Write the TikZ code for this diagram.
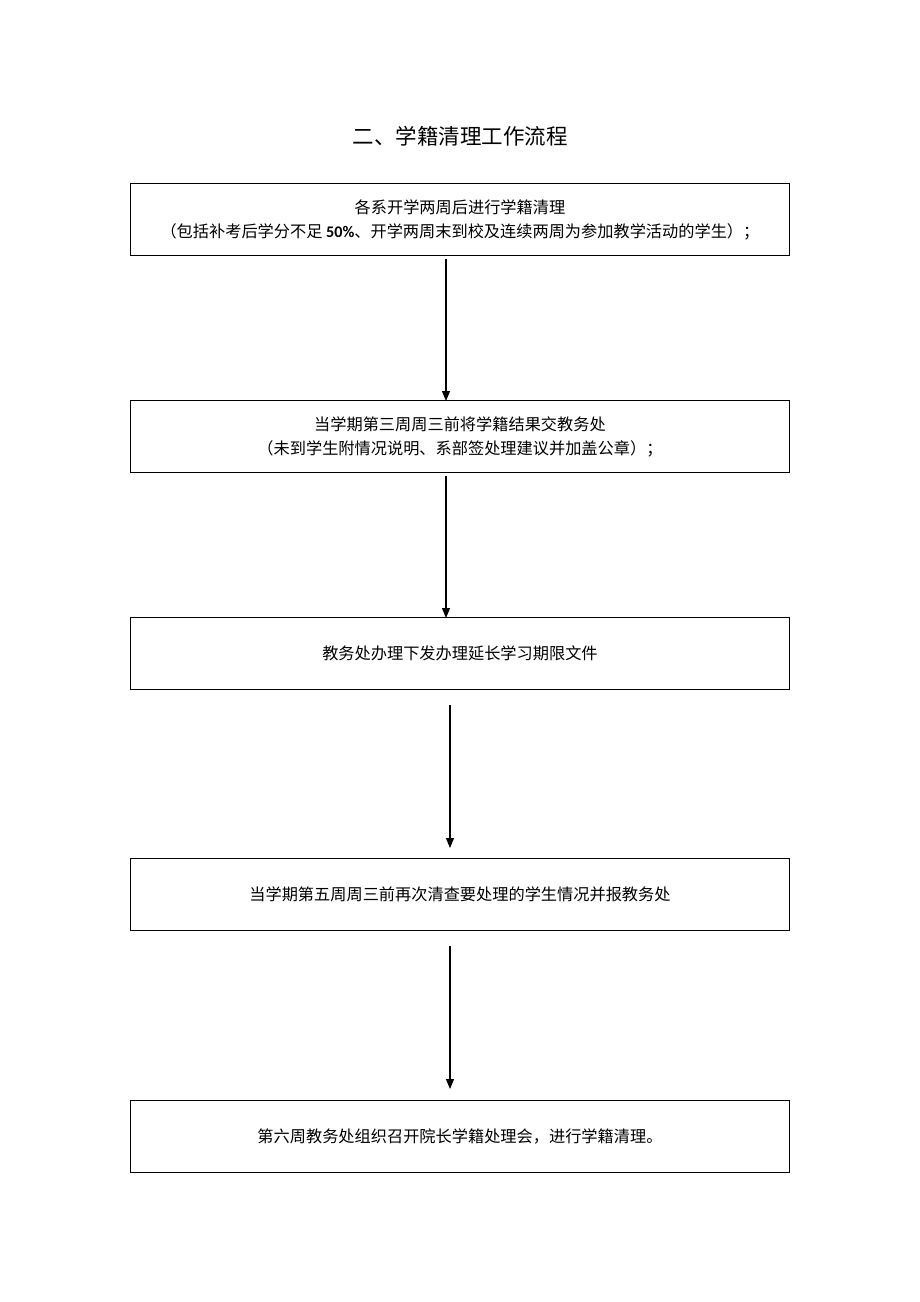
\documentclass[tikz,border=0pt]{standalone}
\usepackage{fontspec}
\setmainfont{Noto Sans CJK SC}
\newfontfamily\latf{Carlito}
\usetikzlibrary{arrows.meta}
\begin{document}
\begin{tikzpicture}[x=1pt,y=-1pt,
  stepbox/.style={draw=black,line width=0.9pt,minimum width=659pt,minimum height=72pt,anchor=north west,inner sep=0pt,align=center,font=\fontsize{16.2}{24}\selectfont},
  flow/.style={line width=1.1pt,-{Triangle[length=10pt,width=8pt]}}]
\useasboundingbox[fill=white] (0,0) rectangle (920,1302);
\node[font=\fontsize{21.5}{26}\selectfont] (title) at (460,136) {二、学籍清理工作流程};
\node[stepbox] (b1) at (130,183) {各系开学两周后进行学籍清理\\（包括补考后学分不足{\latf\bfseries\ 50\%}、开学两周末到校及连续两周为参加教学活动的学生）；};
\node[stepbox] (b2) at (130,400) {当学期第三周周三前将学籍结果交教务处\\（未到学生附情况说明、系部签处理建议并加盖公章）；};
\node[stepbox] (b3) at (130,617) {教务处办理下发办理延长学习期限文件};
\node[stepbox] (b4) at (130,858) {当学期第五周周三前再次清查要处理的学生情况并报教务处};
\node[stepbox] (b5) at (130,1100) {第六周教务处组织召开院长学籍处理会，进行学籍清理。};
\coordinate (a3s) at (450,705);
\coordinate (a3e) at (450,848);
\coordinate (a4s) at (450,946);
\coordinate (a4e) at (450,1089);
\draw[flow] (b1.south -| 446,0) ++(0,3) -- ([yshift=-1pt]b2.north -| 446,0);
\draw[flow] (b2.south -| 446,0) ++(0,3) -- ([yshift=-1pt]b3.north -| 446,0);
\draw[flow] (a3s) -- (a3e);
\draw[flow] (a4s) -- (a4e);
\end{tikzpicture}
\end{document}
